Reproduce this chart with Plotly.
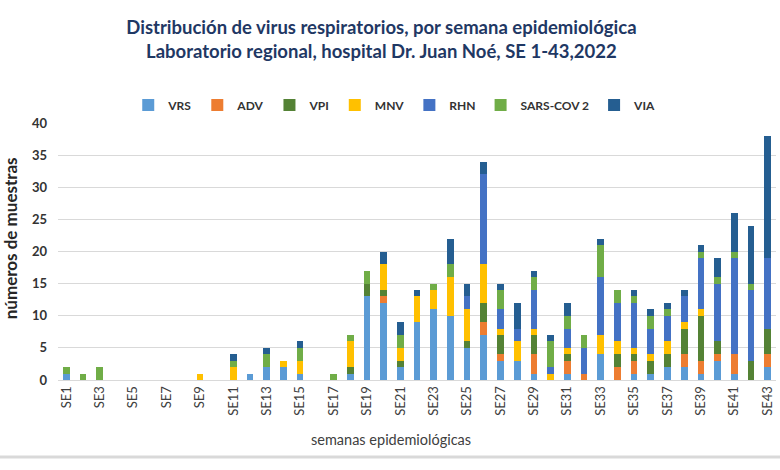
import plotly.graph_objects as go

weeks = [f"SE{i}" for i in range(1, 44)]

VRS  = [1,0,0,0,0,0,0,0,0,0,0,1,2,2,1,0,0,1,13,12,2,9,11,10,5,7,3,3,1,0,1,0,4,0,1,1,2,2,1,3,1,0,2]
ADV  = [0,0,0,0,0,0,0,0,0,0,0,0,0,0,0,0,0,0,0,1,0,0,0,0,0,2,1,0,3,0,2,1,0,2,2,0,0,2,2,1,3,0,2]
VPI  = [0,0,0,0,0,0,0,0,0,0,0,0,0,0,0,0,0,1,2,1,1,0,0,0,1,3,3,0,3,0,1,0,0,2,1,2,2,4,7,2,0,3,4]
MNV  = [0,0,0,0,0,0,0,0,1,0,2,0,0,1,2,0,0,4,0,4,2,4,3,6,5,6,1,3,1,1,1,0,3,2,1,1,2,1,1,0,0,0,0]
RHN  = [0,0,0,0,0,0,0,0,0,0,0,0,0,0,0,0,0,0,0,0,0,0,0,0,2,14,3,2,6,1,3,4,9,6,7,4,4,4,8,9,15,11,11]
SARS = [1,1,2,0,0,0,0,0,0,0,1,0,2,0,2,0,1,1,2,0,2,0,1,2,0,0,3,0,2,4,2,2,5,2,1,2,1,0,1,1,1,1,0]
VIA  = [0,0,0,0,0,0,0,0,0,0,1,0,1,0,1,0,0,0,0,2,2,1,0,4,2,2,1,4,1,1,2,0,1,0,1,1,1,1,1,3,6,9,19]

series = [
    ("VRS", VRS, "#5B9BD5"),
    ("ADV", ADV, "#ED7D31"),
    ("VPI", VPI, "#548235"),
    ("MNV", MNV, "#FFC000"),
    ("RHN", RHN, "#4472C4"),
    ("SARS-COV 2", SARS, "#70AD47"),
    ("VIA", VIA, "#255E91"),
]

FONT = "Lato"

fig = go.Figure()
for name, vals, color in series:
    fig.add_trace(go.Bar(x=weeks, y=vals, name=name, marker=dict(color=color, line=dict(width=0))))

fig.update_layout(
    barmode="stack",
    bargap=0.6,
    width=780, height=470,
    margin=dict(l=58, r=4, t=123, b=90),
    paper_bgcolor="white", plot_bgcolor="white",
    font=dict(family=FONT, color="#404040", size=13),
    title=dict(
        text="<b>Distribución de virus respiratorios, por semana epidemiológica<br>Laboratorio regional, hospital Dr. Juan Noé, SE 1-43,2022</b>",
        x=0.489, xanchor="center", y=1 - 34/470, yanchor="top",
        font=dict(family=FONT, size=18.5, color="#1F3864"),
    ),
    legend=dict(
        orientation="h", x=0.469, xanchor="center", y=1.07, yanchor="middle",
        font=dict(family=FONT, size=12, color="#333333", weight="bold"),
        itemwidth=30, traceorder="normal",
    ),
    xaxis=dict(
        type="category",
        tickvals=weeks[::2], ticktext=weeks[::2],
        tickangle=-90, showgrid=False,
        showline=True, linecolor="#D9D9D9", linewidth=1,
        ticks="", tickfont=dict(size=13, color="#404040"),
    ),
    yaxis=dict(
        range=[0, 40], dtick=5,
        showgrid=True, gridcolor="#D9D9D9", gridwidth=1,
        zeroline=False, showline=False, ticks="",
        ticklabelstandoff=10,
        tickfont=dict(size=13, color="#333333", weight="bold"),
    ),
    annotations=[
        dict(text="semanas epidemiológicas", xref="paper", yref="paper", x=0.464, y=-0.233,
             xanchor="center", yanchor="middle", showarrow=False,
             font=dict(family=FONT, size=14.5, color="#404040")),
        dict(text="<b>números de muestras</b>", xref="paper", yref="paper", x=-0.0665, y=0.5525,
             xanchor="center", yanchor="middle", showarrow=False, textangle=-90,
             font=dict(family=FONT, size=17, color="#262626")),
    ],
)

fig.add_shape(type="line", xref="paper", yref="paper", x0=-0.081, x1=1.006, y0=-0.2996, y1=-0.2996,
              line=dict(color="#D9D9D9", width=3))

fig.write_html("out.html", config={"displayModeBar": False},
               post_script="document.body.style.margin='0px';")
